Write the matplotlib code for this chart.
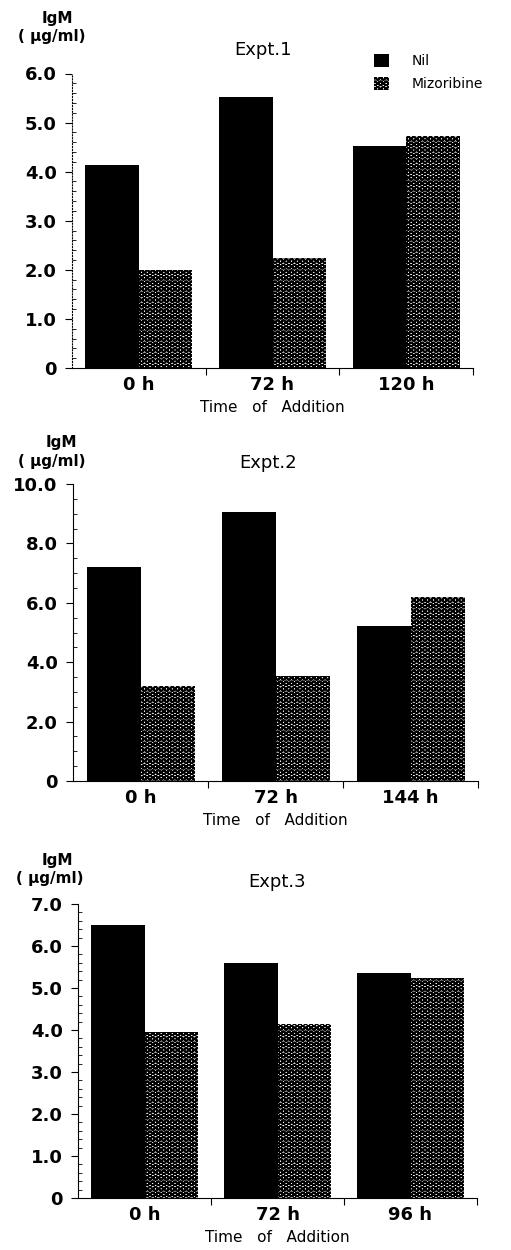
import numpy as np
import matplotlib
matplotlib.use("Agg")
from matplotlib import pyplot as plt
from matplotlib.ticker import MultipleLocator, FixedLocator, NullFormatter, FuncFormatter

# data
series = ["Nil", "Mizoribine"]
times_1 = ["0 h", "72 h", "120 h"]
nil_1 = [4.14, 5.52, 4.52]
miz_1 = [1.99, 2.24, 4.72]

times_2 = ["0 h", "72 h", "144 h"]
nil_2 = [7.19, 9.06, 5.22]
miz_2 = [3.21, 3.52, 6.18]

times_3 = ["0 h", "72 h", "96 h"]
nil_3 = [6.49, 5.59, 5.35]
miz_3 = [3.95, 4.14, 5.23]

titles = ["Expt.1", "Expt.2", "Expt.3"]
ymax = [6.0, 10.0, 7.0]
ymajor = [1.0, 2.0, 1.0]
yminor = [0.2, 0.5, 0.2]

W, H = 511, 1250
plt.rcParams["hatch.linewidth"] = 1.3
plt.rcParams["font.family"] = ["DejaVu Sans"]
fig = plt.figure(figsize=(W / 100, H / 100), dpi=100)

def fx(px):
    return px / W

def fy(py):
    return 1 - py / H

# axes boxes in pixels: left, right, top, bottom
boxes = [(72, 473, 73.5, 368), (73, 478, 484, 781), (78, 477, 904, 1198)]
title_pos = [(263, 50), (268, 463), (277, 882)]
igm_pos = [(57, 18, 52, 36), (61, 442, 52, 462), (57, 860, 50, 878)]

data = [(times_1, nil_1, miz_1), (times_2, nil_2, miz_2), (times_3, nil_3, miz_3)]

ylab = FuncFormatter(lambda v, p: "0" if abs(v) < 1e-9 else "%.1f" % v)

for i, (times, nil, miz) in enumerate(data):
    l, r, t, b = boxes[i]
    ax = fig.add_axes([fx(l), fy(b), fx(r - l), (b - t) / H])
    x = np.arange(len(times))
    bn = ax.bar(x - 0.2, nil, 0.4, color="black", edgecolor="black", linewidth=0, label=series[0])
    bm = ax.bar(x + 0.2, miz, 0.4, color="white", edgecolor="black", linewidth=0,
                hatch="OOO", label=series[1])
    ax.set_xlim(-0.5, len(times) - 0.5)
    ax.set_ylim(0, ymax[i])
    ax.spines["top"].set_visible(False)
    ax.spines["right"].set_visible(False)
    ax.spines["left"].set_linewidth(0.8)
    ax.spines["bottom"].set_linewidth(0.8)
    if i == 0:
        ax.spines["left"].set_linestyle(":")
    ax.yaxis.set_major_locator(MultipleLocator(ymajor[i]))
    ax.yaxis.set_minor_locator(MultipleLocator(yminor[i]))
    ax.yaxis.set_major_formatter(ylab)
    ax.tick_params(axis="y", which="major", direction="out", length=5, width=0.8,
                   labelsize=13, pad=6)
    ax.tick_params(axis="y", which="minor", direction="in", length=3, width=0.6)
    for lab in ax.get_yticklabels():
        lab.set_fontweight("bold")
    # group boundaries get ticks, group centres get labels
    ax.xaxis.set_major_locator(FixedLocator(np.arange(len(times)) + 0.5))
    ax.xaxis.set_major_formatter(NullFormatter())
    ax.xaxis.set_minor_locator(FixedLocator(x))
    ax.set_xticklabels(times, minor=True)
    ax.tick_params(axis="x", which="major", direction="out", length=5, width=0.8)
    ax.tick_params(axis="x", which="minor", length=0, labelsize=13, pad=6)
    for lab in ax.get_xticklabels(minor=True):
        lab.set_fontweight("bold")
    ax.set_xlabel("Time   of   Addition", fontsize=11, labelpad=4)

    tx, ty = title_pos[i]
    fig.text(fx(tx), fy(ty), titles[i], fontsize=13, ha="center", va="center")
    ix, iy, ux, uy = igm_pos[i]
    fig.text(fx(ix), fy(iy), "IgM", fontsize=11, fontweight="bold", ha="center", va="center")
    fig.text(fx(ux), fy(uy), "( \u03bcg/ml)", fontsize=11, fontweight="bold", ha="center", va="center")

    if i == 0:
        ax.legend(handles=[bn, bm], loc="upper left", bbox_to_anchor=(fx(374), fy(54)),
                  bbox_transform=fig.transFigure, frameon=False, fontsize=10,
                  handlelength=1.1, handleheight=1.1, handletextpad=1.6, labelspacing=0.6,
                  borderpad=0, borderaxespad=0)

fig.savefig("out.png", dpi=100)
